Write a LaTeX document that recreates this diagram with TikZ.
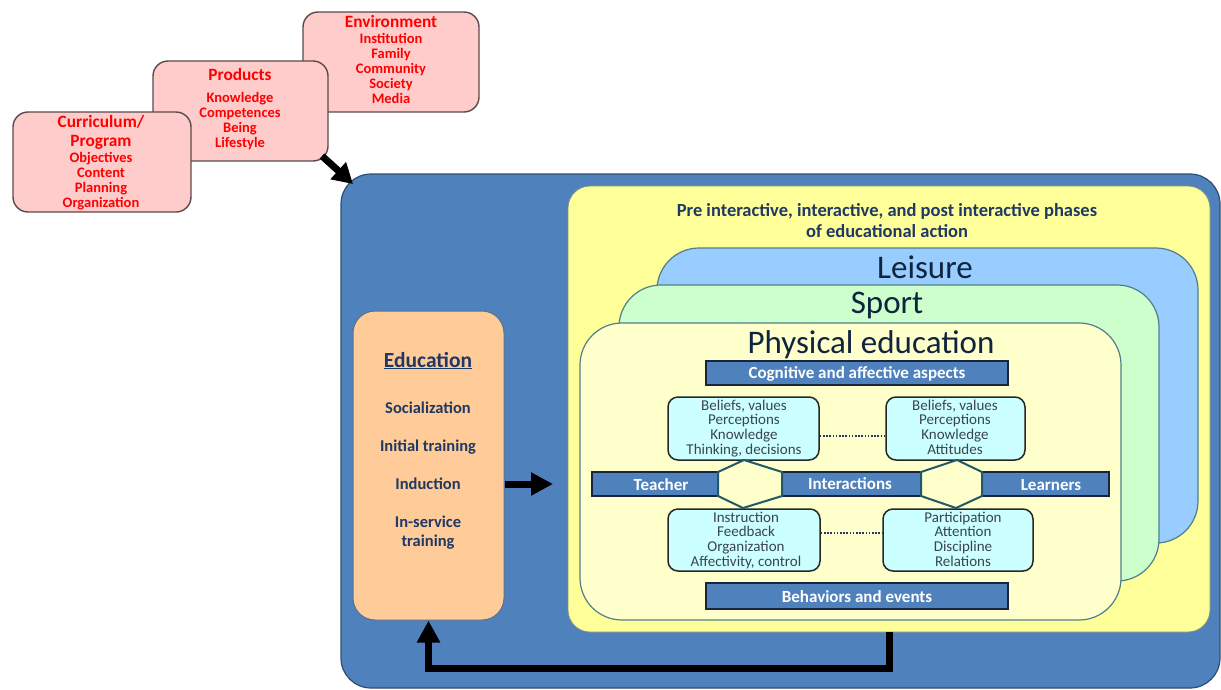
\documentclass[tikz,border=0pt]{standalone}
\usepackage{fontspec}
\setmainfont{Carlito}
\usetikzlibrary{arrows.meta}
\definecolor{bluemain}{HTML}{4F81BD}
\definecolor{bluedk}{HTML}{2C4D75}
\definecolor{pinkfill}{HTML}{FFCCCC}
\definecolor{pinkdk}{HTML}{5A4A4A}
\definecolor{yelfill}{HTML}{FFFF99}
\definecolor{leisfill}{HTML}{99CCFF}
\definecolor{sportfill}{HTML}{CCFFCC}
\definecolor{pefill}{HTML}{FFFFCC}
\definecolor{cyanfill}{HTML}{CCFFFF}
\definecolor{edufill}{HTML}{FFCC99}
\definecolor{tealdk}{HTML}{4F7F8A}
\definecolor{hexdk}{HTML}{215968}
\definecolor{navydk}{HTML}{17263E}
\definecolor{navytxt}{HTML}{1F3864}
\definecolor{titletxt}{HTML}{0F243E}
\definecolor{graytxt}{HTML}{3A4450}
\definecolor{redtxt}{HTML}{FF0000}
\newcommand\myfs[2]{\fontsize{#1}{#2}\selectfont}
\begin{document}
\begin{tikzpicture}[x=1pt,y=-1pt,
  bigbox/.style={draw=bluedk, fill=bluemain, line width=1.2pt, rounded corners=30pt, inner sep=0pt},
  pinkbox/.style={draw=pinkdk, fill=pinkfill, line width=1.4pt, rounded corners=15pt, inner sep=0pt},
  pinktitle/.style={text=redtxt, font=\bfseries\myfs{17.3}{20}, anchor=base, inner sep=0pt},
  pinkline/.style={text=redtxt, font=\bfseries\myfs{14.5}{15}, anchor=base, inner sep=0pt},
  yelbox/.style={draw=bluedk!60!yelfill, fill=yelfill, line width=0.8pt, rounded corners=22pt, inner sep=0pt},
  layer/.style={draw=tealdk, line width=1.2pt, rounded corners=42pt, inner sep=0pt},
  layertxt/.style={text=titletxt, font=\myfs{33}{36}, anchor=base, inner sep=0pt},
  phasetxt/.style={text=navytxt, font=\bfseries\myfs{18.5}{20}, anchor=base, inner sep=0pt},
  bar/.style={draw=navydk, fill=bluemain, line width=1.5pt, inner sep=0pt},
  bartxt/.style={text=white, font=\bfseries\myfs{17}{18}, anchor=base, inner sep=0pt},
  cyanbox/.style={draw=black!85, fill=cyanfill, line width=1.5pt, rounded corners=10pt, inner sep=0pt},
  cyantxt/.style={text=graytxt, font=\myfs{15}{15}, anchor=base, inner sep=0pt},
  edubox/.style={draw=bluedk!80, fill=edufill, line width=1pt, rounded corners=22pt, inner sep=0pt},
  edutxt/.style={text=navytxt, font=\bfseries\myfs{16.5}{19}, anchor=base, inner sep=0pt},
  hexa/.style={draw=hexdk, fill=pefill, line width=2pt, line join=miter},
  dotline/.style={draw=navytxt, line width=2pt, dash pattern=on 1.6pt off 1.6pt},
  fat/.style={draw=black, line width=7pt, -{Triangle[length=22pt,width=22pt]}}
]
\useasboundingbox (0,0) rectangle (1221,689);
% pink boxes
\node[pinkbox, minimum width=176pt, minimum height=100pt] (env) at (391,62) {};
\node[pinkbox, minimum width=175pt, minimum height=100pt] (prod) at (240.5,111) {};
\node[pinkbox, minimum width=178pt, minimum height=100pt] (curr) at (102,162) {};
\node[pinktitle] (envt) at (391,27) {Environment};
\foreach \t [count=\i] in {Institution,Family,Community,Society,Media}
  \node[pinkline] (env-\i) at (391,{28+15*\i}) {\t};
\node[pinktitle] (prodt) at (240,80) {Products};
\foreach \t [count=\i] in {Knowledge,Competences,Being,Lifestyle}
  \node[pinkline] (prod-\i) at (240,{87+15*\i}) {\t};
\node[pinktitle] (currt) at (101,127) {Curriculum/};
\node[pinktitle] (currp) at (101,146) {Program};
\foreach \t [count=\i] in {Objectives,Content,Planning,Organization}
  \node[pinkline] (curr-\i) at (101,{147+15*\i}) {\t};
% big blue box
\node[bigbox, minimum width=879pt, minimum height=514pt] (blue) at (780.5,431) {};
\coordinate (bluetip) at (353,184);
\draw[draw=black, line width=7pt, -{Triangle[length=20pt,width=22pt]}] (322,156) -- (bluetip);
% yellow
\node[yelbox, minimum width=642pt, minimum height=446pt] (yel) at (889,409) {};
\node[phasetxt] (ph1) at (887,216) {Pre interactive, interactive, and post interactive phases};
\node[phasetxt] (ph2) at (887,237) {of educational action};
% layers
\node[layer, fill=leisfill, minimum width=541pt, minimum height=295pt] (leis) at (927.5,395.5) {};
\node[layertxt] (leist) at (925,278) {Leisure};
\node[layer, fill=sportfill, minimum width=540pt, minimum height=296pt] (sport) at (889,433) {};
\node[layertxt] (sportt) at (887,313) {Sport};
\node[layer, fill=pefill, minimum width=541pt, minimum height=297pt] (pe) at (850.5,471.5) {};
\node[layertxt] (pet) at (871,353) {Physical education};
% bars
\node[bar, minimum width=302pt, minimum height=24pt] (cog) at (857,373) {};
\node[bartxt] (cogt) at (857,378) {Cognitive and affective aspects};
\node[bar, minimum width=302pt, minimum height=26pt] (beh) at (857,596) {};
\node[bartxt] (beht) at (857,602) {Behaviors and events};
\node[bar, minimum width=126pt, minimum height=24pt] (teach) at (655,484) {};
\node[bar, minimum width=139pt, minimum height=24pt] (inter) at (851.5,484) {};
\node[bar, minimum width=127pt, minimum height=24pt] (learn) at (1045.5,484) {};
\node[bartxt] (teacht) at (661,490) {Teacher};
\node[bartxt] (intert) at (850,489) {Interactions};
\node[bartxt] (learnt) at (1051,490) {Learners};
% cyan boxes
\node[cyanbox, minimum width=151pt, minimum height=63pt] (tl) at (743.5,428.5) {};
\node[cyanbox, minimum width=139pt, minimum height=63pt] (tr) at (955.5,428.5) {};
\node[cyanbox, minimum width=152pt, minimum height=62pt] (bl) at (744,540) {};
\node[cyanbox, minimum width=150pt, minimum height=62pt] (br) at (958,540) {};
\foreach \t [count=\i] in {{Beliefs, values},Perceptions,Knowledge,{Thinking, decisions}}
  \node[cyantxt] (tl-\i) at (744,{395.5+14.7*\i}) {\t};
\foreach \t [count=\i] in {{Beliefs, values},Perceptions,Knowledge,Attitudes}
  \node[cyantxt] (tr-\i) at (955,{395.5+14.7*\i}) {\t};
\foreach \t [count=\i] in {Instruction,Feedback,Organization,{Affectivity, control}}
  \node[cyantxt] (bl-\i) at (746,{507.5+14.7*\i}) {\t};
\foreach \t [count=\i] in {Participation,Attention,Discipline,Relations}
  \node[cyantxt] (br-\i) at (963,{507.5+14.7*\i}) {\t};
% hexagons
\draw[hexa] (718,472) -- (744,460) -- (782,472) -- (782,496) -- (743,508) -- (718,496) -- cycle;
\draw[hexa] (921,472) -- (957,460) -- (982,472) -- (982,496) -- (956,508) -- (921,496) -- cycle;
% dotted connectors
\draw[dotline] ([yshift=-7.5pt]tl.east) -- ([yshift=-7.5pt]tr.west);
\draw[dotline] ([yshift=7pt]bl.east) -- ([yshift=7pt]br.west);
% education
\node[edubox, minimum width=151pt, minimum height=309pt] (edu) at (428.5,465.5) {};
\node[text=navytxt, font=\bfseries\myfs{21.5}{24}, anchor=base, inner sep=0pt] (edut) at (428,367) {\underline{Education}};
\node[edutxt] (edu1) at (428,413) {Socialization};
\node[edutxt] (edu2) at (428,451) {Initial training};
\node[edutxt] (edu3) at (428,489) {Induction};
\node[edutxt] (edu4) at (428,527) {In-service};
\node[edutxt] (edu5) at (428,546) {training};
% arrows
\coordinate (rtip) at (553,484);
\draw[fat] (edu.east |- rtip) -- (rtip);
\draw[fat] (yel.south) -- ++(0,36) -| (edu.south);
\end{tikzpicture}
\end{document}
